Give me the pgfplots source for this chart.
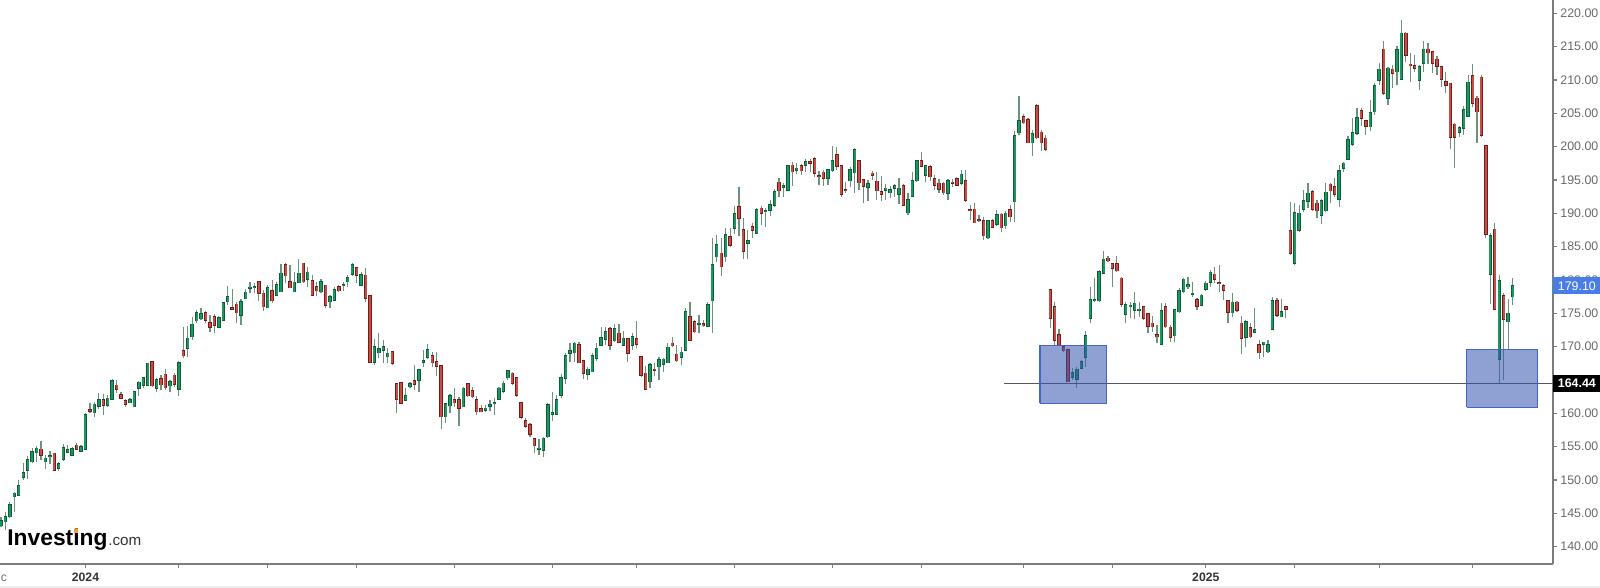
\documentclass[border=0pt]{standalone}
\usepackage{fontspec}
\setmainfont{Liberation Sans}
\usepackage{pgfplots}
\usepackage{pgfplotstable}
\pgfplotsset{compat=1.18}

\definecolor{upfill}{RGB}{30,150,95}
\definecolor{upedge}{RGB}{12,92,55}
\definecolor{dnfill}{RGB}{195,80,70}
\definecolor{dnedge}{RGB}{120,25,25}
\definecolor{wick}{RGB}{110,145,125}
\definecolor{axisgray}{RGB}{125,125,125}
\definecolor{labelgray}{RGB}{105,105,105}
\definecolor{boxfill}{RGB}{51,82,173}
\definecolor{boxedge}{RGB}{70,100,200}
\definecolor{lastblue}{RGB}{72,125,230}
\definecolor{linegray}{RGB}{85,88,100}
\definecolor{logoorange}{RGB}{245,160,30}

% up (green) candles: x open high low close
\pgfplotstableread{
x o h l c
0 143.15 144.5 143.0 143.85
1 143.75 145.25 142.5 144.5
2 144.5 146.75 144.35 146.25
3 147.5 148.25 145.25 148.0
4 147.75 150.0 147.75 149.1
5 150.4 152.6 150.0 151.1
6 151.5 153.6 150.15 153.0
7 152.75 154.75 152.5 154.25
8 154.1 155.1 152.75 154.75
10 152.75 153.75 151.6 153.25
11 153.5 154.4 152.4 153.6
13 151.75 152.75 151.3 152.4
14 153.1 155.4 152.9 154.85
15 154.15 155.25 154.0 154.5
16 153.75 155.0 153.6 154.7
18 154.3 155.2 154.2 154.95
19 154.6 160.0 154.5 159.75
21 160.1 161.75 159.5 161.35
22 161.1 163.0 160.65 162.0
24 161.25 162.75 161.0 162.25
25 162.1 165.1 162.0 164.85
29 161.6 162.25 161.5 162.0
30 161.0 163.4 160.9 163.25
31 163.75 164.9 162.6 164.65
32 164.25 165.5 163.75 165.3
33 164.25 167.6 164.1 167.5
35 163.75 165.25 163.25 165.0
38 164.15 165.0 163.25 164.75
40 163.6 167.85 162.6 167.6
42 169.75 173.1 168.4 171.25
43 171.5 174.5 171.0 173.35
44 173.9 175.5 173.6 175.1
45 174.2 175.85 174.0 174.9
49 172.9 174.6 172.75 174.35
50 174.0 176.75 173.85 176.6
51 176.75 179.1 176.25 177.5
54 174.75 177.1 173.25 176.7
55 177.2 178.6 177.1 178.15
56 178.75 179.75 178.1 178.9
57 178.9 179.5 178.1 179.0
60 175.85 179.25 175.75 178.85
62 177.75 179.75 177.6 179.25
63 178.25 182.4 178.15 181.0
66 178.25 181.25 178.15 179.65
67 179.6 183.1 179.5 181.0
69 180.1 182.0 179.0 181.15
72 178.25 180.1 178.0 179.75
74 176.75 177.75 175.85 177.5
75 177.0 179.0 176.85 178.5
77 179.15 179.75 178.4 179.25
78 179.75 180.75 179.0 180.35
79 180.9 182.5 180.6 182.25
81 179.25 181.25 179.1 180.75
84 167.65 171.1 167.25 170.0
85 169.1 172.0 168.25 169.7
86 169.5 171.0 167.5 170.0
87 168.5 169.85 167.6 169.0
91 162.0 163.75 161.9 162.6
92 164.0 164.75 163.75 164.4
94 165.0 166.6 163.25 166.5
95 167.65 169.5 166.9 167.9
96 168.4 170.4 168.2 169.5
100 159.5 161.5 158.6 161.4
101 161.15 162.9 160.0 162.6
104 161.0 164.0 160.9 163.75
109 160.5 161.25 160.25 160.75
110 161.1 162.0 160.4 161.25
111 161.5 162.25 159.75 161.6
112 162.1 164.0 162.0 163.75
113 163.35 164.9 163.0 164.5
114 165.35 166.5 165.0 166.35
121 154.6 156.15 153.75 154.75
122 154.5 156.4 153.5 156.25
123 156.5 161.5 156.25 161.25
124 159.9 163.25 158.85 160.1
125 159.9 162.75 159.7 162.0
126 162.75 165.85 162.25 165.35
127 165.25 169.0 164.4 168.6
128 169.0 170.5 167.75 169.35
129 169.1 170.75 167.75 170.5
132 165.85 166.9 165.0 166.6
133 166.25 169.1 166.15 168.6
134 168.25 170.5 167.9 169.75
135 170.25 173.0 170.1 171.35
136 171.1 173.0 170.25 172.25
138 170.9 173.35 170.75 172.65
140 170.25 172.35 170.1 171.25
142 170.25 172.0 169.5 171.5
146 164.75 167.5 163.75 167.25
148 167.0 168.5 165.0 168.0
149 167.35 168.35 166.25 168.1
150 167.6 170.5 167.5 169.9
153 168.4 170.0 167.25 169.15
154 169.5 175.75 169.4 175.25
157 173.4 174.75 172.1 173.5
159 173.1 176.75 172.9 176.25
160 176.9 186.25 172.0 182.25
161 183.5 186.75 182.75 185.25
163 183.5 187.75 182.75 186.75
165 187.75 191.1 186.9 189.9
168 185.5 187.5 183.15 185.85
170 187.0 190.75 186.9 190.5
172 190.25 190.75 188.0 190.35
173 190.5 192.0 189.6 191.25
174 191.25 193.6 191.0 193.25
176 193.9 194.5 192.5 194.1
177 193.5 197.25 193.4 197.1
179 196.5 197.5 195.85 196.75
181 197.25 198.1 196.25 197.75
186 195.25 196.6 194.25 196.5
187 196.4 200.15 196.25 197.85
191 194.9 196.9 193.9 196.5
192 196.1 199.75 193.0 199.5
195 193.9 195.0 191.9 194.4
199 193.5 194.4 192.0 193.75
200 193.1 194.1 192.25 193.5
201 193.75 194.4 192.4 194.1
202 192.9 195.25 191.4 193.75
204 190.1 193.0 189.75 192.0
205 192.6 196.25 192.5 194.9
206 194.9 198.0 194.75 197.85
208 195.75 197.25 194.75 197.1
213 193.0 195.1 192.0 194.9
216 194.5 196.5 194.25 195.85
222 186.35 189.0 186.15 188.85
224 188.4 190.5 188.1 189.75
226 188.15 190.4 187.65 190.0
228 191.75 202.4 188.75 201.6
229 202.1 207.6 201.75 203.9
232 200.6 202.5 198.6 201.9
241 165.4 166.75 165.0 166.1
242 165.1 167.0 163.75 166.6
243 166.75 168.0 166.6 167.75
244 168.4 172.4 167.0 171.65
245 174.25 178.9 173.5 177.0
246 176.9 180.25 176.75 177.05
247 176.9 181.5 176.75 181.25
248 181.0 184.4 180.9 183.1
253 174.9 176.75 173.6 176.25
254 176.0 176.75 174.25 176.2
255 175.5 178.25 174.1 176.5
256 175.5 176.75 174.5 175.6
261 170.4 176.5 170.25 175.4
264 171.65 175.6 170.75 175.5
265 175.25 178.75 175.1 178.4
266 178.25 180.25 178.0 180.1
267 179.0 180.4 178.7 179.25
268 177.9 179.75 177.4 178.0
270 176.25 177.9 176.1 177.7
271 178.6 179.9 178.4 179.5
272 179.65 181.5 178.9 181.15
277 175.1 178.0 174.4 176.65
280 171.4 174.0 170.0 173.75
282 172.15 175.75 172.0 172.5
284 170.4 170.75 168.5 170.65
285 169.25 171.0 169.1 170.25
286 172.65 177.5 172.5 176.85
288 174.5 177.1 174.4 175.25
291 182.5 191.6 182.25 190.1
292 187.5 191.25 187.25 190.0
293 190.6 193.5 190.15 191.85
294 191.85 194.6 190.75 193.0
297 189.75 192.1 188.35 191.85
298 190.4 194.5 190.25 193.15
301 192.1 197.25 190.9 196.35
302 196.75 197.75 196.25 197.5
303 198.1 201.6 198.0 201.0
304 200.4 204.25 200.15 202.1
305 202.0 205.75 201.75 204.35
308 203.0 207.0 202.4 205.1
309 205.25 209.5 204.75 209.15
310 210.0 212.5 209.25 211.6
312 207.25 212.0 206.25 211.75
314 211.25 215.15 209.25 214.5
315 210.1 219.0 210.0 217.0
319 210.0 212.25 208.5 212.0
320 212.5 215.85 211.25 214.6
328 202.15 203.15 201.5 202.85
329 202.75 206.1 201.75 205.5
330 204.6 210.75 204.5 209.65
335 180.9 187.0 176.4 186.65
337 168.1 180.75 164.4 179.85
339 173.75 177.1 169.5 175.0
340 177.5 180.25 176.25 179.1
}\up

% down (red) candles: x open high low close
\pgfplotstableread{
x o h l c
9 154.6 155.85 153.0 153.75
12 154.0 154.1 151.4 151.5
17 155.2 155.6 154.5 154.6
20 160.5 161.6 160.0 160.3
23 162.0 162.9 159.75 161.25
26 164.2 165.0 163.1 163.6
27 162.75 163.25 162.2 162.3
28 161.85 162.1 161.0 161.4
34 167.7 167.85 164.0 164.15
36 165.2 165.75 163.5 164.3
37 165.85 166.6 163.5 163.85
39 165.7 166.0 164.0 164.35
41 169.35 172.9 168.25 168.65
46 175.1 175.4 173.5 174.0
47 173.55 174.75 172.25 172.9
48 174.5 174.9 172.1 173.25
52 175.85 178.6 175.6 175.65
53 176.35 176.75 173.6 175.1
58 179.75 179.9 176.9 178.0
59 178.0 178.5 175.4 176.0
61 178.35 180.0 176.5 176.9
64 182.25 182.5 179.6 180.65
65 179.75 182.25 178.75 178.85
68 182.5 182.6 179.6 179.75
70 179.85 180.75 177.6 177.75
71 179.0 179.75 177.6 178.4
73 179.2 179.25 175.75 176.25
76 179.0 179.25 178.25 178.4
80 181.85 182.0 179.6 180.75
82 180.7 181.75 176.75 177.25
83 177.65 177.75 167.5 167.7
88 169.25 169.35 167.3 167.5
89 164.4 164.5 160.0 162.1
90 164.6 164.75 161.4 161.5
93 164.85 167.25 163.5 164.4
97 168.6 169.15 166.9 167.6
98 167.75 169.15 165.6 167.1
99 167.1 167.25 157.6 159.5
102 162.0 163.75 161.0 161.6
103 162.0 162.5 158.15 160.75
105 164.4 164.5 162.5 162.65
106 163.35 164.0 162.35 162.5
107 162.0 162.65 159.7 160.25
108 160.65 161.25 160.15 160.25
115 166.0 166.15 164.25 164.5
116 165.35 165.5 162.4 162.75
117 161.6 161.75 159.1 159.4
118 158.85 159.25 157.85 158.1
119 158.25 158.6 156.4 156.85
120 156.15 156.25 154.0 155.15
130 170.25 170.75 167.5 167.6
131 167.9 168.0 165.1 166.0
137 172.65 172.9 169.5 170.25
139 172.0 173.35 170.5 170.65
141 171.15 171.25 167.75 169.0
143 171.15 173.85 169.75 170.35
144 168.5 168.65 165.5 165.75
145 166.0 167.1 163.5 163.6
147 166.6 167.6 165.6 166.5
151 170.5 171.5 170.0 170.15
152 168.85 170.25 167.75 167.9
155 174.5 176.75 170.9 171.0
156 173.75 174.0 172.0 172.25
158 173.4 174.0 173.0 173.15
162 184.0 186.25 180.65 182.0
164 186.5 187.75 185.0 185.25
166 191.0 194.0 186.6 189.25
167 187.5 189.25 183.1 184.35
169 188.0 188.5 186.25 187.5
171 190.75 191.1 188.25 190.0
175 194.65 195.25 192.4 193.4
178 197.2 197.75 194.1 196.25
180 197.1 197.35 195.75 196.4
182 197.75 198.1 196.25 197.5
183 198.15 198.4 195.4 196.0
184 195.65 196.4 194.25 195.5
185 196.15 196.5 194.1 195.25
188 198.75 200.0 196.5 197.1
189 197.15 197.25 192.5 192.9
190 193.5 194.75 193.1 193.4
193 197.85 198.0 193.5 194.6
194 195.0 195.2 191.5 194.1
196 196.0 196.4 195.0 195.75
197 194.8 196.25 192.0 193.4
198 193.25 195.65 191.9 192.9
203 194.1 194.4 191.1 191.25
207 197.85 199.25 196.9 197.1
209 197.0 197.25 194.85 195.5
210 195.2 195.75 193.5 194.25
211 194.5 195.1 193.1 193.6
212 194.5 194.75 192.75 193.1
214 194.65 195.1 194.0 194.5
215 195.2 195.5 194.1 194.25
217 194.85 196.5 191.75 192.0
218 190.5 191.25 189.0 190.4
219 190.6 191.6 188.5 188.6
220 189.0 189.75 188.75 188.9
221 188.85 189.5 186.0 186.65
223 188.85 189.1 187.75 187.95
225 189.85 190.1 187.25 187.85
227 190.5 191.25 188.75 189.5
230 204.5 204.85 203.4 203.6
231 204.0 204.25 200.5 200.6
233 206.1 206.4 201.1 201.35
234 202.15 202.5 199.35 200.6
235 201.25 201.75 199.4 199.6
236 178.5 178.6 172.75 174.25
237 176.0 176.65 170.25 171.0
238 171.75 172.6 170.1 170.25
239 170.0 170.25 169.25 169.4
240 169.5 169.6 164.65 164.75
249 183.25 183.6 182.75 182.9
250 182.4 182.6 178.9 181.75
251 182.4 183.6 181.25 181.4
252 180.25 180.5 176.0 176.4
257 176.0 176.1 174.0 174.25
258 174.9 175.0 172.1 173.1
259 173.5 174.6 172.25 173.0
260 171.75 173.25 170.5 171.5
262 176.0 176.5 172.75 173.0
263 172.9 173.25 170.75 171.4
269 177.0 177.25 175.5 176.1
273 180.85 182.0 179.5 180.1
274 179.6 182.2 178.25 179.5
275 179.15 179.35 177.0 178.5
276 176.85 177.0 173.5 175.15
278 176.65 176.9 175.25 175.5
279 173.5 174.6 168.85 171.25
281 172.85 173.5 171.25 171.5
283 170.25 171.0 168.1 169.1
287 176.85 177.25 174.5 174.75
289 176.0 176.1 174.25 175.6
290 187.35 191.75 183.75 184.0
295 193.25 193.5 190.4 190.6
296 191.5 192.0 189.25 190.4
299 194.35 194.6 191.6 193.4
300 194.0 195.25 192.5 192.9
306 205.35 205.75 203.1 204.25
307 203.9 204.0 201.75 203.1
311 214.6 215.9 207.75 208.0
313 211.6 212.25 208.75 211.0
316 217.0 217.15 212.75 213.75
317 212.35 214.1 209.75 212.15
318 212.15 213.75 211.25 211.75
321 214.6 215.5 212.4 214.1
322 214.25 214.4 211.1 212.5
323 213.1 213.6 210.75 212.1
324 212.0 212.1 209.0 210.1
325 209.75 211.25 208.0 209.25
326 209.5 209.6 199.6 201.4
327 203.35 203.5 196.75 201.4
331 210.6 212.4 206.0 206.5
332 207.25 207.6 200.6 205.25
333 210.4 210.75 201.5 201.75
334 200.15 200.25 186.25 186.9
336 187.6 188.6 175.5 175.6
338 177.65 178.1 165.0 174.1
}\down

\begin{document}
\begin{tikzpicture}
\useasboundingbox (0,0) rectangle (800pt,294pt);
\fill[black!7] (0,0) rectangle (800pt,1.2pt);
\begin{axis}[
  at={(0pt,294pt)}, anchor=north west,
  scale only axis, width=776.5pt, height=282pt,
  xmin=-0.225, xmax=349.1, ymin=137.4, ymax=222.0,
  axis x line*=bottom, axis y line*=right,
  axis line style={draw=axisgray, line width=0.6pt},
  tick style={draw=axisgray, line width=0.6pt},
  tick align=outside, major tick length=2pt,
  xtick={19,40,60,80,102,124,143,165,187,207,230,250,271,291,310,331},
  xticklabels={},
  ytick={140,145,150,155,160,165,170,175,180,185,190,195,200,205,210,215,220},
  yticklabels={140.00,145.00,150.00,155.00,160.00,,170.00,175.00,180.00,185.00,190.00,195.00,200.00,205.00,210.00,215.00,220.00},
  yticklabel style={font=\fontsize{6.2}{7}\selectfont, text=labelgray, anchor=west, inner sep=0pt, xshift=1.5pt},
  every error bar/.append style={line cap=butt},
]
% wicks
\addplot[draw=none, mark=none, forget plot, error bars/.cd, y dir=plus, y explicit, error mark=none, error bar style={draw=wick, line width=0.6pt}]
  table[x=x, y=l, y error expr=\thisrow{h}-\thisrow{l}] {\up};
\addplot[draw=none, mark=none, forget plot, error bars/.cd, y dir=plus, y explicit, error mark=none, error bar style={draw=wick, line width=0.6pt}]
  table[x=x, y=l, y error expr=\thisrow{h}-\thisrow{l}] {\down};
% bodies: outline then fill
\addplot[draw=none, mark=none, forget plot, error bars/.cd, y dir=plus, y explicit, error mark=none, error bar style={draw=upedge, line width=1.7pt}]
  table[x=x, y expr=\thisrow{o}-0.1, y error expr=\thisrow{c}-\thisrow{o}+0.2] {\up};
\addplot[draw=none, mark=none, forget plot, error bars/.cd, y dir=plus, y explicit, error mark=none, error bar style={draw=upfill, line width=1.0pt}]
  table[x=x, y=o, y error expr=\thisrow{c}-\thisrow{o}] {\up};
\addplot[draw=none, mark=none, forget plot, error bars/.cd, y dir=plus, y explicit, error mark=none, error bar style={draw=dnedge, line width=1.7pt}]
  table[x=x, y expr=\thisrow{c}-0.1, y error expr=\thisrow{o}-\thisrow{c}+0.2] {\down};
\addplot[draw=none, mark=none, forget plot, error bars/.cd, y dir=plus, y explicit, error mark=none, error bar style={draw=dnfill, line width=1.0pt}]
  table[x=x, y=c, y error expr=\thisrow{o}-\thisrow{c}] {\down};
% support line
\addplot[draw=linegray, line width=0.6pt, mark=none] coordinates {(225.6,164.44) (349.1,164.44)};
% highlight boxes
\addplot[draw=boxedge, line width=0.6pt, fill=boxfill, fill opacity=0.55, mark=none]
  coordinates {(233.7,161.5) (248.7,161.5) (248.7,170.15) (233.7,170.15) (233.7,161.5)};
\addplot[draw=boxedge, line width=0.6pt, fill=boxfill, fill opacity=0.55, mark=none]
  coordinates {(329.7,160.9) (345.6,160.9) (345.6,169.6) (329.7,169.6) (329.7,160.9)};
\end{axis}
% price labels on the axis
\node[fill=lastblue, text=white, anchor=west, inner sep=0pt, minimum height=8.5pt, minimum width=23.5pt,
  font=\fontsize{6.2}{7}\selectfont] at (776.5pt,151pt) {179.10};
\node[fill=black, text=white, anchor=west, inner sep=0pt, minimum height=8.5pt, minimum width=23.5pt,
  font=\fontsize{6.2}{7}\selectfont\bfseries] at (776.5pt,102.15pt) {164.44};
% x labels
\node[anchor=base, text=black!80, font=\fontsize{6.1}{7}\selectfont\bfseries, inner sep=0pt] at (42.75pt,3.2pt) {2024};
\node[anchor=base, text=black!80, font=\fontsize{6.1}{7}\selectfont\bfseries, inner sep=0pt] at (602.9pt,3.2pt) {2025};
\node[anchor=base west, text=labelgray, font=\fontsize{6.1}{7}\selectfont, inner sep=0pt] at (0.2pt,3.2pt) {c};
% watermark
\node[anchor=base west, inner sep=0pt, font=\fontsize{11.4}{12}\selectfont\bfseries] (inv) at (3.5pt,21.15pt) {Investing};
\node[anchor=base west, inner sep=0pt, text=black!80, font=\fontsize{7.6}{8}\selectfont] at (inv.base east) {.com};
\fill[logoorange] (37.1pt,27.7pt) rectangle (38.9pt,29.6pt);
\end{tikzpicture}
\end{document}
